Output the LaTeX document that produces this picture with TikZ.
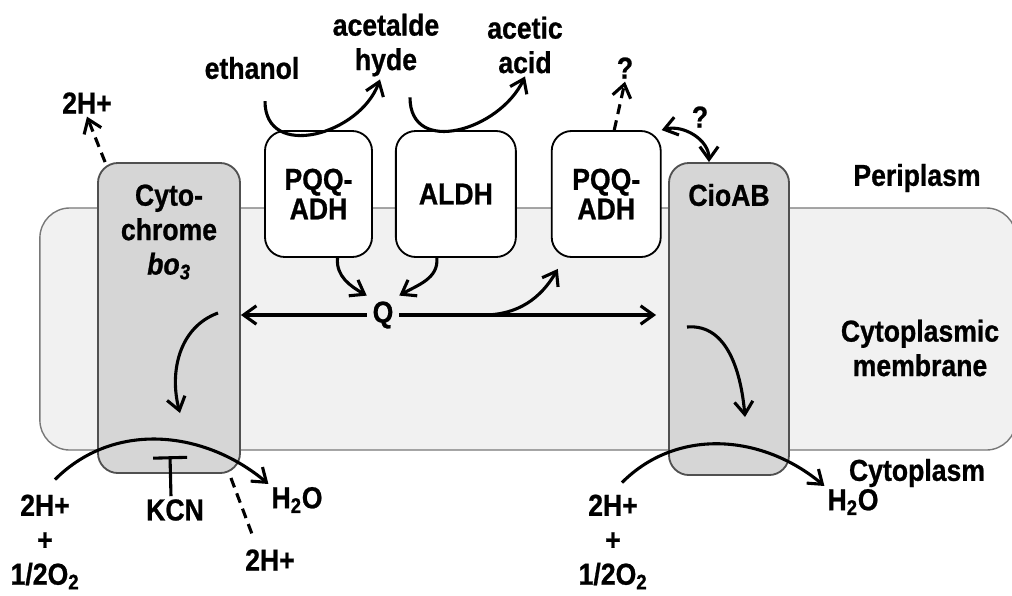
\documentclass[tikz,border=0pt]{standalone}
\usepackage{fontspec}
\setmainfont{Liberation Sans}[FakeStretch=0.88, BoldFeatures={FakeBold=0.8},
  BoldItalicFeatures={FakeBold=0.8}]
\usepackage{tikz}
\usetikzlibrary{arrows.meta,positioning}
\definecolor{membfill}{RGB}{241,241,241}
\definecolor{membline}{RGB}{120,120,120}
\definecolor{cplxfill}{RGB}{214,214,214}
\definecolor{cplxline}{RGB}{80,80,80}
\tikzset{
  membrane/.style={rectangle, draw=membline, fill=membfill, line width=1pt,
                   rounded corners=7.5mm},
  cplxbox/.style={rectangle, draw=cplxline, fill=cplxfill, line width=1.3pt,
                  rounded corners=5mm, minimum width=3.55cm},
  enzbox/.style={rectangle, draw=black, fill=white, line width=1.3pt,
                 rounded corners=5mm, minimum height=3.15cm, align=center,
                 font=\bfseries\fontsize{21.5}{21}\selectfont},
  txt/.style={align=center, font=\bfseries\fontsize{21.5}{24.5}\selectfont,
              inner sep=2pt},
  arr/.style={-{Straight Barb[length=3.2mm,width=4.6mm]}, line width=2.2pt},
  darr/.style={{Straight Barb[length=3.2mm,width=4.6mm]}-{Straight Barb[length=3.2mm,width=4.6mm]},
               line width=2.2pt},
  dasharr/.style={arr, dash pattern=on 2.5mm off 1.6mm},
  dashln/.style={line width=2.2pt, dash pattern=on 2.5mm off 1.6mm},
  inh/.style={-{Bar[width=8.5mm]}, line width=2.2pt},
}
\begin{document}
\begin{tikzpicture}[x=0.025cm, y=-0.025cm, node distance=5mm]
  \useasboundingbox (0,0) rectangle (1012,595);
  \clip (0,0) rectangle (1012,595);
  \node[membrane, minimum width=24.4cm, minimum height=6.05cm] (memb) at (528,329) {};
  \node[cplxbox, minimum height=7.75cm] (cyto) at (169,318) {};
  \node[cplxbox, minimum width=3cm, minimum height=7.8cm] (cioab) at (729,319) {};
  \node[txt] (cytolbl) at (169,232) {Cyto-\\chrome\\\textit{bo\textsubscript{3}}};
  \node[txt] (ciolbl) at (729,195) {CioAB};
  \node[enzbox, minimum width=2.675cm] (pqqa) at (318.5,194) {PQQ-\\ADH};
  \node[enzbox, minimum width=3cm, right=5.5mm of pqqa] (aldh) {ALDH};
  \node[enzbox, minimum width=2.725cm, right=8.5mm of aldh] (pqqb) {PQQ-\\ADH};
  \node[txt] (hpt) at (87,103) {2H+};
  \node[txt] (etoh) at (252,68) {ethanol};
  \node[txt] (acald) at (386,45) {acetalde\\hyde};
  \node[txt] (acac) at (525,45) {acetic\\acid};
  \node[txt] (qpqq) at (625,68) {?};
  \node[txt] (qcio) at (700,117) {?};
  \node[txt] (peri) at (917,178) {Periplasm};
  \node[txt] (cmem) at (920,348) {Cytoplasmic\\membrane};
  \node[txt] (cytop) at (917,473) {Cytoplasm};
  \node[txt] (wr) at (853,502) {H\textsubscript{2}O};
  \node[txt, inner sep=4pt] (q) at (383,315) {Q};
  \node[txt] (hl) at (45,542) {2H+\\+\\1/2O\textsubscript{2}};
  \node[txt] (kcn) at (175,510) {KCN};
  \node[txt] (wl) at (297,500) {H\textsubscript{2}O};
  \node[txt] (hpb) at (270,560) {2H+};
  \node[txt] (hr) at (613,542) {2H+\\+\\1/2O\textsubscript{2}};
  \draw[dasharr] ([xshift=2mm]cyto.north west) -- (hpt.south);
  \draw[arr] ([shift={(13,19)}]etoh.south) to[out=-90,in=-110,looseness=1.3] ([xshift=-1.5mm]acald.south);
  \draw[arr] ([shift={(24,18)}]acald.south) to[out=-90,in=-115,looseness=1.3] (acac.south);
  \draw[dasharr] ([xshift=2mm]pqqb.north) -- (qpqq.south);
  \draw[darr] (pqqb.north east) to[out=15,in=90] ([xshift=-5mm]cioab.north);
  \draw[arr] (q.west) -- (q.west -| cyto.east);
  \draw[arr, shorten >=3mm] (q.east) -- (q.east -| cioab.west);
  \draw[arr] ([xshift=4.75mm]pqqa.south) to[out=-95,in=150] (q.north west);
  \draw[arr] ([xshift=-4.75mm]aldh.south) to[out=-85,in=30] (q.north east);
  \draw[arr] ([xshift=21mm]q.east) to[out=0,in=-120] ([shift={(7,11)}]pqqb.south west);
  \draw[arr] ([shift={(49,-5)}]cyto.center) to[out=200,in=105] ([shift={(11,95)}]cyto.center);
  \draw[arr] ([shift={(-42,8)}]cioab.center) to[out=5,in=95] ([shift={(16,98)}]cioab.center);
  \draw[arr] ([shift={(10,-12)}]hl.north) to[out=45,in=140] (wl.north west);
  \draw[arr] ([shift={(9,-9)}]hr.north) to[out=45,in=140] (wr.north west);
  \draw[inh] ([xshift=-1mm]kcn.north) -- ([shift={(-5,-40)}]kcn.north);
  \draw[dashln] ([shift={(-10,4)}]cyto.south east) -- ([shift={(10,-12)}]hpb.north west);
\end{tikzpicture}
\end{document}
